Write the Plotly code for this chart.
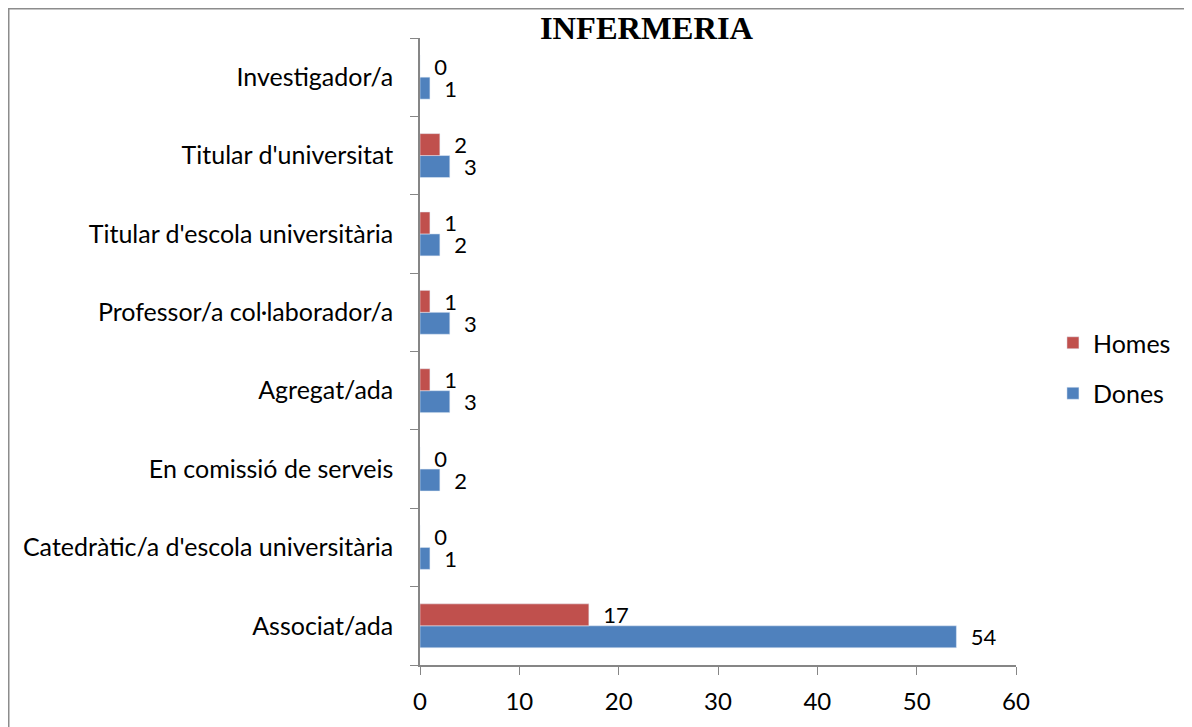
import plotly.graph_objects as go

categories = [
    "Associat/ada",
    "Catedràtic/a d'escola universitària",
    "En comissió de serveis",
    "Agregat/ada",
    "Professor/a col·laborador/a",
    "Titular d'escola universitària",
    "Titular d'universitat",
    "Investigador/a",
]
dones = [54, 1, 2, 3, 3, 2, 3, 1]
homes = [17, 0, 0, 1, 1, 1, 2, 0]

font_main = "Lato, Calibri, Carlito, 'Noto Sans', sans-serif"

# page has an 8px body margin, so the figure is 8px smaller than the window
W, H = 1184, 719
L, R, T, B = 412, 176, 30, 62
pw, ph = W - L - R, H - T - B

fig = go.Figure()

fig.add_trace(go.Bar(
    y=categories, x=dones, orientation="h", name="Dones",
    legendgroup="d", legendrank=2,
    marker=dict(color="#4F81BD"),
    texttemplate="  %{x}", textposition="outside", constraintext="none",
    textfont=dict(size=22, color="black"), cliponaxis=False,
))
fig.add_trace(go.Bar(
    y=categories, x=homes, orientation="h", name="Homes",
    legendgroup="h", legendrank=1,
    marker=dict(color="#C0504D"),
    texttemplate="  %{x}", textposition="outside", constraintext="none",
    textfont=dict(size=22, color="black"), cliponaxis=False,
))

fig.update_layout(
    width=W, height=H,
    margin=dict(l=L, r=R, t=T, b=B, autoexpand=False),
    paper_bgcolor="white", plot_bgcolor="white",
    font=dict(family=font_main, size=24, color="black"),
    barmode="group", bargap=0.44, bargroupgap=0,
    title=dict(
        text="<b>INFERMERIA</b>", x=638.5 / W, xanchor="center",
        y=1 - 20 / H, yanchor="middle",
        font=dict(family="'Liberation Serif', 'Times New Roman', serif", size=32.5, color="black"),
    ),
    legend=dict(
        x=1.062, y=1 - (360 - T) / ph, xanchor="left", yanchor="middle",
        traceorder="grouped", font=dict(size=25),
        itemwidth=30, tracegroupgap=15,
    ),
    showlegend=True,
    shapes=[dict(
        type="rect", xref="paper", yref="paper",
        x0=(0.5 - L) / pw, x1=1.5, y0=-0.5, y1=1 + (T - 0.5) / ph,
        line=dict(color="#8C8C8C", width=2), fillcolor="rgba(0,0,0,0)",
        layer="below",
    )],
)

fig.update_xaxes(
    range=[0, 60], dtick=10, showgrid=False, zeroline=False,
    showline=True, linecolor="#868686", linewidth=1.5,
    ticks="outside", ticklen=8, tickcolor="#868686",
    tickfont=dict(size=24), ticklabelstandoff=6, fixedrange=True,
)
fig.update_yaxes(
    type="category", categoryorder="array", categoryarray=categories,
    showgrid=False, showline=True, linecolor="#868686", linewidth=1.5,
    ticks="outside", ticklen=8, tickcolor="#868686", tickson="boundaries",
    tickfont=dict(size=25), ticklabelstandoff=20, fixedrange=True,
)

fig.write_html("out.html")
